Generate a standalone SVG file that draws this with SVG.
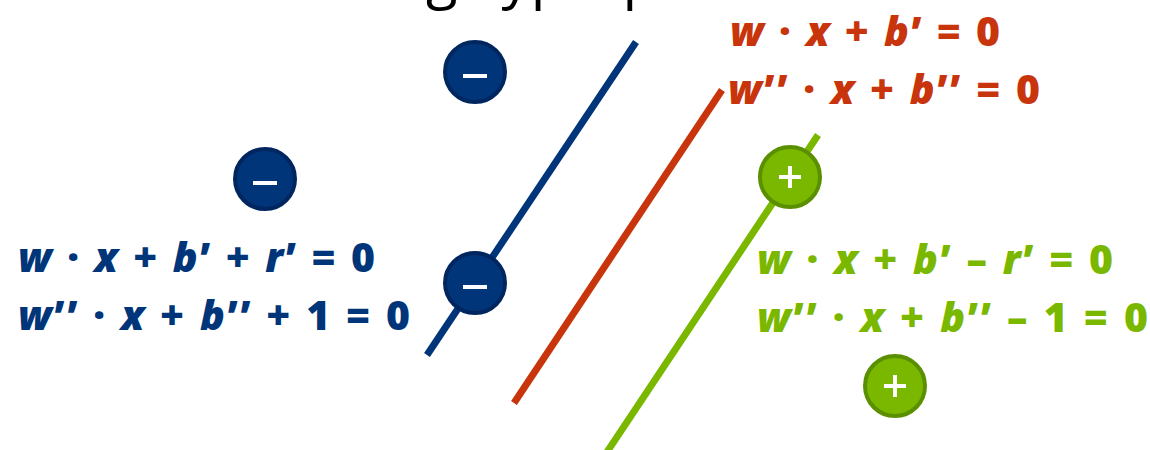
<svg xmlns="http://www.w3.org/2000/svg" width="1150" height="450" viewBox="0 0 1150 450">
<style>
.eq{font-family:"Open Sans","Liberation Sans",sans-serif;font-weight:800;font-size:41px}
.i{font-style:italic}
.blue{fill:#00357a}
.red{fill:#c8340c}
.green{fill:#7ab800}
.ttl{font-family:"Open Sans","Liberation Sans",sans-serif;font-size:58px;fill:#000}
.neg circle{fill:#00357a;stroke:#002660;stroke-width:4}
.pos circle{fill:#7ab800;stroke:#5a8f00;stroke-width:4}
.sign{stroke:#fff;stroke-width:4;fill:none}
</style>
<text class="ttl" x="318" y="-3">Margin <tspan x="466">hyperplane</tspan></text>
<g id="connectors" stroke-width="7" stroke-linecap="butt">
<line id="hyperplane-neg" x1="427" y1="355" x2="636" y2="42" stroke="#00357a"/>
<line id="hyperplane-mid" x1="514" y1="403" x2="722" y2="90" stroke="#c8340c"/>
<line id="hyperplane-pos" x1="607" y1="452" x2="818" y2="135" stroke="#7ab800"/>
</g>
<g id="neg1" class="neg"><circle cx="475" cy="72" r="30"/><line class="sign" x1="463" y1="76" x2="487" y2="76"/></g>
<g id="neg2" class="neg"><circle cx="265" cy="179" r="30"/><line class="sign" x1="253" y1="183" x2="277" y2="183"/></g>
<g id="neg3" class="neg"><circle cx="475" cy="283" r="30"/><line class="sign" x1="463" y1="287" x2="487" y2="287"/></g>
<g id="pos1" class="pos"><circle cx="790" cy="177" r="30"/><path class="sign" d="M779 177H801M790 166V188"/></g>
<g id="pos2" class="pos"><circle cx="895" cy="386" r="30"/><path class="sign" d="M884 386H906M895 375V397"/></g>
<g id="eq-red">
<text class="eq red" x="730" y="46" textLength="270" lengthAdjust="spacing"><tspan class="i">w</tspan> · <tspan class="i">x</tspan> + <tspan class="i">b</tspan>’ = 0</text>
<text class="eq red" x="728" y="104" textLength="312" lengthAdjust="spacing"><tspan class="i">w</tspan>’’ · <tspan class="i">x</tspan> + <tspan class="i">b</tspan>’’ = 0</text>
</g>
<g id="eq-blue">
<text class="eq blue" x="18" y="272" textLength="357" lengthAdjust="spacing"><tspan class="i">w</tspan> · <tspan class="i">x</tspan> + <tspan class="i">b</tspan>’ + <tspan class="i">r</tspan>’ = 0</text>
<text class="eq blue" x="18" y="330" textLength="392" lengthAdjust="spacing"><tspan class="i">w</tspan>’’ · <tspan class="i">x</tspan> + <tspan class="i">b</tspan>’’ + 1 = 0</text>
</g>
<g id="eq-green">
<text class="eq green" x="757" y="274" textLength="356" lengthAdjust="spacing"><tspan class="i">w</tspan> · <tspan class="i">x</tspan> + <tspan class="i">b</tspan>’ – <tspan class="i">r</tspan>’ = 0</text>
<text class="eq green" x="757" y="332" textLength="391" lengthAdjust="spacing"><tspan class="i">w</tspan>’’ · <tspan class="i">x</tspan> + <tspan class="i">b</tspan>’’ – 1 = 0</text>
</g>
</svg>
